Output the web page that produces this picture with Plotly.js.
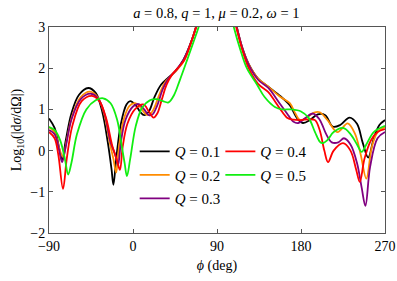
<!DOCTYPE html>
<html>
<head>
<meta charset="utf-8">
<script src="https://cdn.plot.ly/plotly-3.0.1.min.js"></script>
<style>
  html, body { margin: 0; padding: 0; background: #fff; }
  #plot { width: 397px; height: 281px; }
</style>
</head>
<body>
<div id="plot"></div>
<script>
// values (phi in deg, log10 cross section)
var phiQ1 = [-90, -84, -79, -76, -72, -66, -58, -48, -40, -33, -27, -23, -21, -18, -13, -7, -3, 3, 8, 12, 17, 23, 30, 37, 45, 54, 63, 70, 78, 90, 102, 110, 117, 124, 134, 145, 158, 168, 176, 182, 190, 198, 206, 214, 222, 232, 240, 246, 252, 258, 264, 270];
var logQ1 = [0.78, 0.55, 0.05, -0.22, 0.25, 0.9, 1.35, 1.52, 1.4, 0.95, 0.2, -0.45, -0.83, -0.2, 0.65, 1.12, 1.2, 1.1, 0.93, 0.86, 0.95, 1.3, 1.6, 1.75, 1.92, 2.2, 2.68, 3.2, 3.8, 4.2, 3.8, 3.1, 2.5, 2.1, 1.75, 1.55, 1.32, 1.1, 0.78, 0.67, 0.75, 0.88, 0.86, 0.58, 0.62, 0.8, 0.65, 0.2, -0.17, 0.3, 0.62, 0.74];

var phiQ2 = [-90, -84, -79, -75, -71, -65, -56, -46, -38, -31, -25, -21, -18, -15, -10, -4, 2, 8, 13, 17, 22, 28, 34, 40, 47, 55, 63, 69, 78, 90, 102, 110, 117, 124, 134, 145, 158, 168, 174, 179, 186, 194, 200, 208, 219, 230, 238, 244, 250, 256, 262, 270];
var logQ2 = [0.57, 0.45, 0.05, -0.15, 0.25, 0.85, 1.3, 1.43, 1.3, 0.9, 0.2, -0.2, -0.53, 0.1, 0.75, 1.08, 1.15, 1.05, 0.9, 0.86, 1.0, 1.35, 1.65, 1.8, 1.95, 2.2, 2.68, 3.1, 3.8, 4.2, 3.8, 3.1, 2.5, 2.1, 1.75, 1.55, 1.3, 1.15, 0.9, 0.74, 0.8, 0.92, 0.93, 0.75, 0.45, 0.66, 0.4, -0.1, -0.68, 0.1, 0.45, 0.57];

var phiQ3 = [-90, -84, -79, -76, -72, -66, -56, -45, -37, -30, -24, -19, -16, -13, -8, 0, 6, 12, 17, 21, 26, 32, 38, 45, 54, 63, 69, 78, 90, 102, 110, 117, 124, 134, 145, 157, 165, 172, 177, 184, 193, 200, 207, 213, 220, 226, 233, 240, 245, 249, 254, 262, 270];
var logQ3 = [0.5, 0.4, 0.0, -0.28, 0.1, 0.75, 1.25, 1.38, 1.25, 0.85, 0.2, -0.1, -0.35, 0.2, 0.75, 1.07, 1.13, 1.0, 0.86, 0.88, 1.1, 1.5, 1.75, 1.92, 2.2, 2.68, 3.1, 3.8, 4.2, 3.8, 3.1, 2.5, 2.08, 1.72, 1.52, 1.15, 0.9, 0.7, 0.67, 0.78, 0.9, 0.75, 0.4, 0.2, 0.2, 0.3, 0.15, -0.3, -0.9, -1.34, -0.4, 0.3, 0.45];

var phiQ4 = [-90, -84, -80, -75, -71, -65, -55, -44, -36, -29, -22, -17, -14, -11, -6, 2, 11, 17, 22, 26, 31, 36, 42, 48, 55, 63, 69, 78, 90, 102, 110, 117, 124, 134, 145, 152, 158, 165, 172, 180, 188, 195, 200, 205, 209, 215, 225, 233, 239, 243, 248, 255, 262, 270];
var logQ4 = [0.45, 0.3, -0.1, -0.93, -0.2, 0.6, 1.2, 1.33, 1.2, 0.8, 0.1, -0.25, -0.47, 0.1, 0.65, 1.0, 1.12, 0.95, 0.8, 0.9, 1.25, 1.6, 1.85, 2.0, 2.2, 2.68, 3.1, 3.8, 4.2, 3.8, 3.05, 2.45, 2.0, 1.62, 1.42, 1.2, 1.0, 0.8, 0.75, 0.74, 0.76, 0.74, 0.5, 0.0, -0.28, 0.0, 0.18, 0.0, -0.45, -0.76, -0.2, 0.25, 0.45, 0.52];

var phiQ5 = [-90, -84, -78, -73, -69.5, -66, -60, -50, -40, -32, -24, -17, -12, -9, -6.5, -3, 3, 10, 18, 25, 32, 38, 44, 50, 58, 65, 71, 78, 90, 102, 108, 115, 122, 133, 141, 152, 160, 170, 180, 188, 195, 200, 203, 208, 215, 225, 233, 240, 245, 250, 258, 270];
var logQ5 = [0.57, 0.5, 0.25, -0.2, -0.58, -0.3, 0.4, 1.0, 1.22, 1.27, 1.15, 0.75, 0.1, -0.3, -0.62, -0.2, 0.6, 1.05, 1.22, 1.25, 1.2, 1.17, 1.35, 1.7, 2.2, 2.65, 3.05, 3.7, 4.1, 3.6, 3.0, 2.45, 2.0, 1.6, 1.3, 1.06, 1.0, 1.0, 0.95, 0.8, 0.45, 0.22, 0.18, 0.25, 0.45, 0.55, 0.4, 0.15, -0.03, 0.15, 0.45, 0.6];

var qLabels = ["0.1", "0.2", "0.3", "0.4", "0.5"];
var qColors = ["#000000", "#ff8c00", "#800080", "#ff0000", "#11ee11"];
var xTicks = [-90, 0, 90, 180, 270];
var yTicks = [-2, -1, 0, 1, 2, 3];

var serif = "Liberation Serif, Times New Roman, serif";
var allPhi = [phiQ1, phiQ2, phiQ3, phiQ4, phiQ5];
var allLog = [logQ1, logQ2, logQ3, logQ4, logQ5];

// first three go in the left legend column, last two in the right one
var data = allPhi.map(function (phi, i) {
  return {
    x: phi,
    y: allLog[i],
    type: "scatter",
    mode: "lines",
    name: "<i>Q</i> = " + qLabels[i],
    legend: i < 3 ? "legend" : "legend2",
    legendgroup: "g" + i,
    line: {color: qColors[i], width: 1.8, shape: "spline", smoothing: 1}
  };
});

var axisStyle = {
  showline: true,
  linecolor: "#555",
  linewidth: 1,
  mirror: "ticks",
  ticks: "inside",
  ticklen: 4,
  tickcolor: "#555",
  showgrid: false,
  zeroline: false,
  tickfont: {family: serif, size: 14, color: "#000"}
};

var legendStyle = {
  bgcolor: "rgba(0,0,0,0)",
  font: {family: serif, size: 15, color: "#000"},
  tracegroupgap: 1,
  xanchor: "left",
  yanchor: "top"
};

var layout = {
  width: 397,
  height: 281,
  margin: {l: 49, r: 12, t: 27, b: 48},
  paper_bgcolor: "#fff",
  plot_bgcolor: "#fff",
  font: {family: serif, size: 14, color: "#000"},
  title: {
    text: "<i>a</i> = 0.8, <i>q</i> = 1, <i>μ</i> = 0.2, <i>ω</i> = 1",
    font: {family: serif, size: 14.5, color: "#000"},
    x: 0.545, xanchor: "center", y: 0.955, yanchor: "middle"
  },
  xaxis: Object.assign({}, axisStyle, {
    range: [-90, 270],
    tickvals: xTicks,
    title: {text: "<i>ϕ</i> (deg)", font: {family: serif, size: 14}, standoff: 7}
  }),
  yaxis: Object.assign({}, axisStyle, {
    range: [-2, 3],
    tickvals: yTicks,
    title: {text: "Log<sub>10</sub>(|d<i>σ</i>/dΩ|)", font: {family: serif, size: 14}, standoff: 5}
  }),
  showlegend: true,
  legend: Object.assign({}, legendStyle, {x: 0.255, y: 0.475}),
  legend2: Object.assign({}, legendStyle, {x: 0.51, y: 0.475})
};

Plotly.newPlot("plot", data, layout, {staticPlot: true, displayModeBar: false});
</script>
</body>
</html>
